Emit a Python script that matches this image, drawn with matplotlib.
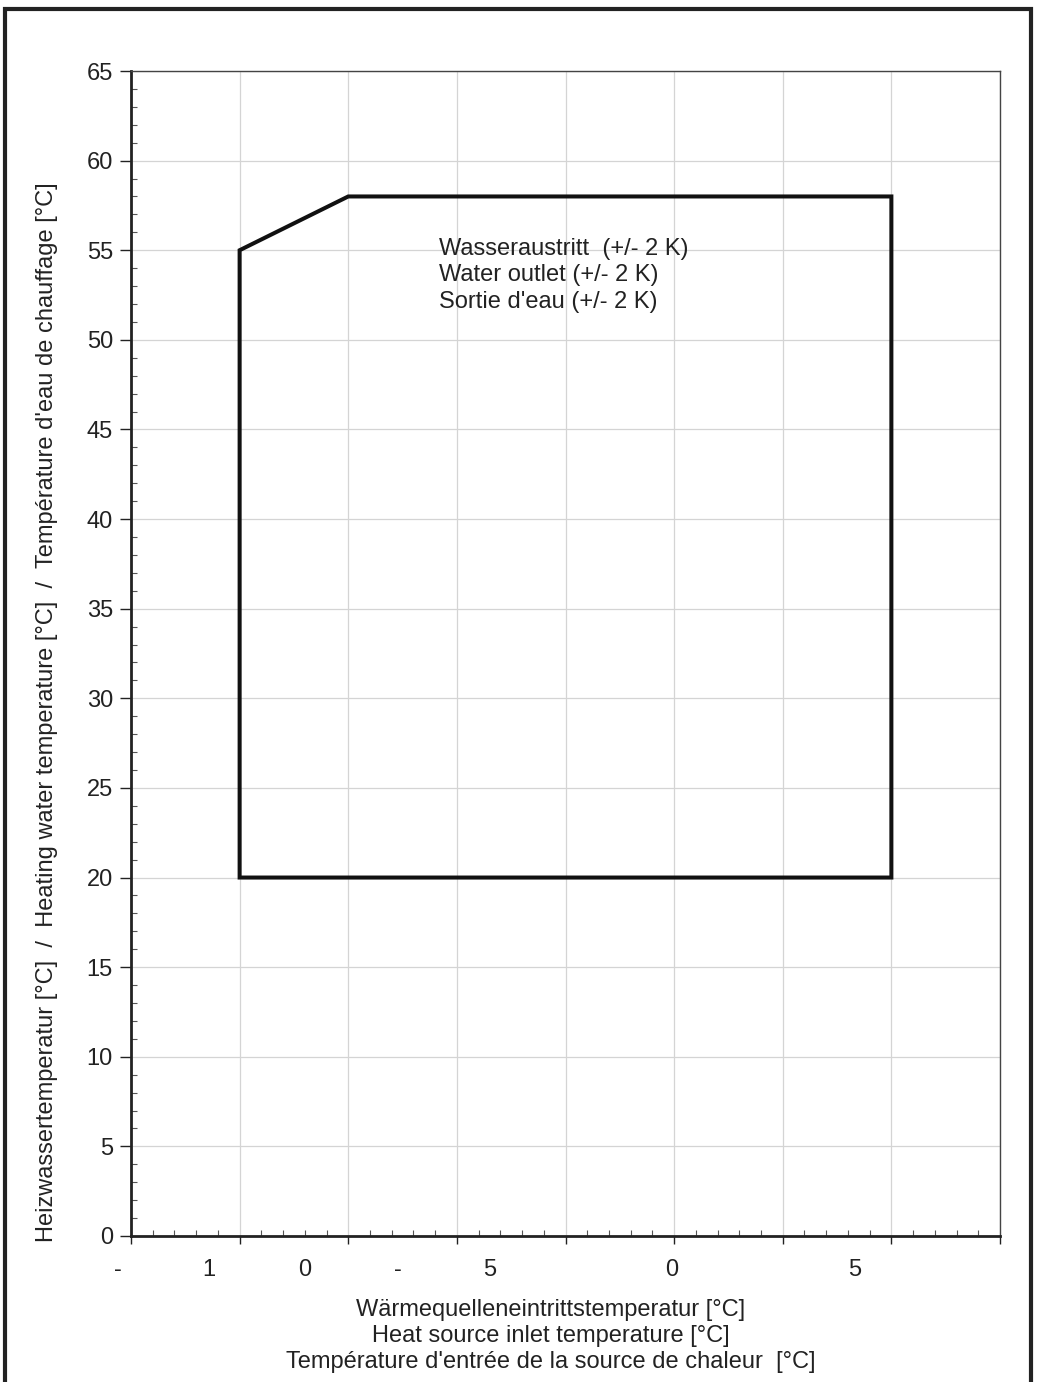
import numpy as np
import matplotlib.pyplot as plt
from matplotlib.patches import Rectangle, Polygon
from matplotlib.ticker import MultipleLocator

plt.rcParams["font.family"] = ["Liberation Sans", "DejaVu Sans"]

# Operating limits (source inlet temp, heating water temp)
env_x = [-5, -5, 0, 25, 25]
env_y = [20, 55, 58, 58, 20]

# x tick labels as printed in the source (garbled characters and where they sit)
xlab_text = ["-", "1", "0", "-", "5", "0", "5"]
xlab_pos = [-10.6, -6.4, -2.0, 2.3, 6.5, 14.9, 23.3]

note = "Wasseraustritt  (+/- 2 K)\nWater outlet (+/- 2 K)\nSortie d'eau (+/- 2 K)"
ylabel = ("Heizwassertemperatur [°C]  /  Heating water temperature [°C]  /  "
          "Température d'eau de chauffage [°C]")
xlabel = ("Wärmequelleneintrittstemperatur [°C]\nHeat source inlet temperature [°C]\n"
          "Température d'entrée de la source de chaleur  [°C]")

W, H = 1037, 1382
fig = plt.figure(figsize=(W / 100, H / 100), dpi=100)
ax = fig.add_axes([131 / W, 1 - 1236 / H, (1000 - 131) / W, (1236 - 71) / H])

ax.add_patch(Polygon(np.column_stack([env_x, env_y]), closed=True, fill=False,
                     ec="#111111", lw=2.9, joinstyle="miter", zorder=3))

ax.set_xlim(-10, 30)
ax.set_ylim(0, 65)
ax.xaxis.set_major_locator(MultipleLocator(5))
ax.xaxis.set_minor_locator(MultipleLocator(1))
ax.yaxis.set_major_locator(MultipleLocator(5))
ax.yaxis.set_minor_locator(MultipleLocator(1))
ax.grid(True, which="major", color="#d4d4d4", lw=0.9)
ax.set_axisbelow(True)

ax.tick_params(which="major", direction="out", length=6, width=1.0, color="#222222")
ax.tick_params(which="minor", direction="in", length=4, width=0.8, color="#555555")
ax.tick_params(axis="y", which="major", length=8, labelsize=17, pad=5, labelcolor="#222222")
ax.set_xticklabels([])

for s in ["left", "bottom"]:
    ax.spines[s].set_linewidth(2.0)
    ax.spines[s].set_color("#222222")
for s in ["top", "right"]:
    ax.spines[s].set_linewidth(1.0)
    ax.spines[s].set_color("#444444")

for t, xp in zip(xlab_text, xlab_pos):
    ax.text(xp, -0.029, t, transform=ax.get_xaxis_transform(), ha="center", va="center",
            fontsize=17, color="#222222")

ax.text(4.17, 53.6, note, ha="left", va="center", fontsize=17, color="#222222",
        linespacing=1.25)

fig.text(47 / W, 1 - 712 / H, ylabel, rotation=90, ha="center", va="center",
         fontsize=17, color="#222222")
fig.text(551 / W, 1 - 1336 / H, xlabel, ha="center", va="center", fontsize=17,
         color="#222222", linespacing=1.25)

# outer frame
fig.patches.append(Rectangle((5 / W, -0.01), (1031 - 5) / W, 1 - 9 / H + 0.01,
                             transform=fig.transFigure, fill=False, lw=3, ec="#222222"))

fig.savefig("out.png", dpi=100)
